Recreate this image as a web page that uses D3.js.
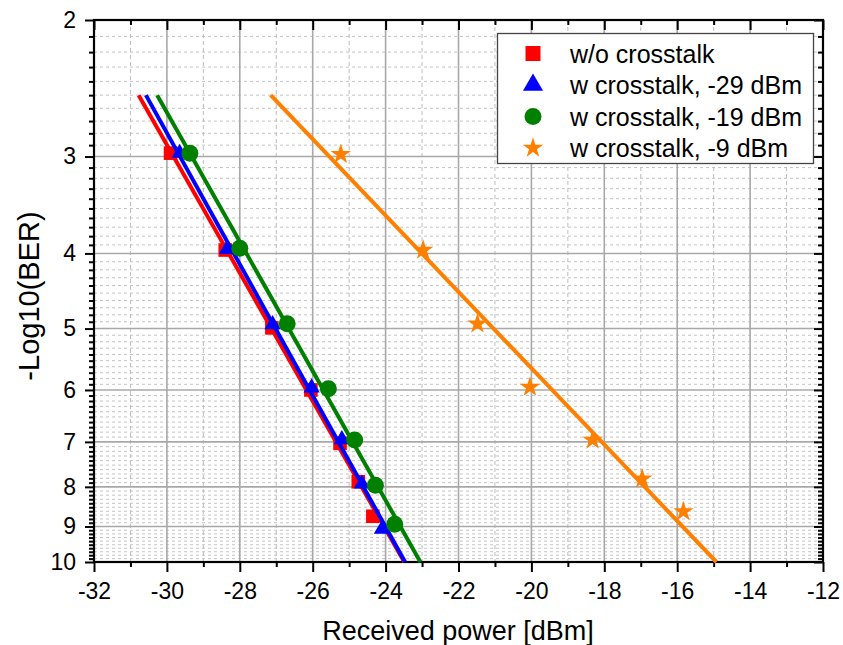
<!DOCTYPE html>
<html>
<head>
<meta charset="utf-8">
<script src="https://cdn.jsdelivr.net/npm/d3@7/dist/d3.min.js"></script>
<style>
  html, body { margin: 0; padding: 0; background: #fff; }
  svg { display: block; font-family: "Liberation Sans", Arial, sans-serif; }
</style>
</head>
<body>
<svg id="chart" width="843" height="645"></svg>
<script>
// Received power (dBm) and -log10(BER) per measurement set
const seriesNames = ["w/o crosstalk", "w crosstalk, -29 dBm", "w crosstalk, -19 dBm", "w crosstalk, -9 dBm"];
const seriesColors = ["#ff0000", "#0000ff", "#008000", "#ff8000"];

const powerNoXt   = [-29.9, -28.4, -27.12, -26.05, -25.25, -24.75, -24.35];
const berNoXt     = [2.97, 3.96, 4.99, 6.0, 7.03, 7.88, 8.73];

const powerXt29   = [-29.65, -28.35, -27.1, -26.03, -25.2, -24.65, -24.1];
const berXt29     = [2.97, 3.95, 4.94, 5.96, 6.95, 7.93, 9.07];

const powerXt19   = [-29.37, -28.0, -26.7, -25.57, -24.85, -24.28, -23.75];
const berXt19     = [2.97, 3.94, 4.93, 5.98, 6.96, 7.96, 8.94];

const powerXt9    = [-25.23, -22.97, -21.48, -20.04, -18.32, -16.96, -15.83];
const berXt9      = [2.98, 3.96, 4.93, 5.95, 6.96, 7.81, 8.61];

// fitted lines span this -log10(BER) range
const fitRange = [2.5, 10];

const xTicks = [-32, -30, -28, -26, -24, -22, -20, -18, -16, -14, -12];
const yTicks = [2, 3, 4, 5, 6, 7, 8, 9, 10];

const svg = d3.select("#chart");
const M = { left: 94, right: 823, top: 20, bottom: 562 };

const x = d3.scaleLinear().domain([-32, -12]).range([M.left, M.right]);
const y = d3.scaleLog().domain([2, 10]).range([M.top, M.bottom]);

const xMinor = d3.range(-31, -12, 2);
const yMinor = [];
for (let d = 2; d < 10; d++) for (let k = 1; k < 10; k++) yMinor.push(+(d + k / 10).toFixed(1));

// grid
const grid = svg.append("g");
grid.selectAll(".ym").data(yMinor).join("line")
  .attr("x1", M.left).attr("x2", M.right)
  .attr("y1", d => y(d)).attr("y2", d => y(d))
  .attr("stroke", "#c4c4c4").attr("stroke-width", 1).attr("stroke-dasharray", "3,3");
grid.selectAll(".xm").data(xMinor).join("line")
  .attr("y1", M.top).attr("y2", M.bottom)
  .attr("x1", d => x(d)).attr("x2", d => x(d))
  .attr("stroke", "#bdbdbd").attr("stroke-width", 1).attr("stroke-dasharray", "4,3");
grid.selectAll(".yM").data(yTicks.slice(1, -1)).join("line")
  .attr("x1", M.left).attr("x2", M.right)
  .attr("y1", d => y(d)).attr("y2", d => y(d))
  .attr("stroke", "#a8a8a8").attr("stroke-width", 1.6);
grid.selectAll(".xM").data(xTicks.slice(1, -1)).join("line")
  .attr("y1", M.top).attr("y2", M.bottom)
  .attr("x1", d => x(d)).attr("x2", d => x(d))
  .attr("stroke", "#a8a8a8").attr("stroke-width", 1.6);

// axes
function styleAxis(g) {
  g.select(".domain").remove();
  g.selectAll(".tick line").attr("stroke", "#000").attr("stroke-width", 2);
  g.selectAll("text").attr("font-size", 23).attr("fill", "#000")
    .attr("font-family", "'Liberation Sans', Arial, sans-serif");
}
const fmt = d => d3.format("d")(d).replace("\u2212", "-");

svg.append("g").attr("transform", `translate(0,${M.bottom})`)
  .call(d3.axisBottom(x).tickValues(xTicks).tickSize(10).tickPadding(11).tickFormat(fmt)).call(styleAxis);
svg.append("g").attr("transform", `translate(0,${M.bottom})`)
  .call(d3.axisBottom(x).tickValues(xMinor).tickSize(5).tickFormat("")).call(styleAxis);
svg.append("g").attr("transform", `translate(0,${M.top})`)
  .call(d3.axisTop(x).tickValues(xTicks).tickSize(-10).tickFormat("")).call(styleAxis);
svg.append("g").attr("transform", `translate(0,${M.top})`)
  .call(d3.axisTop(x).tickValues(xMinor).tickSize(-5).tickFormat("")).call(styleAxis);

svg.append("g").attr("transform", `translate(${M.left},0)`)
  .call(d3.axisLeft(y).tickValues(yTicks).tickSize(9).tickPadding(9).tickFormat(d3.format("d"))).call(styleAxis);
svg.append("g").attr("transform", `translate(${M.left},0)`)
  .call(d3.axisLeft(y).tickValues(yMinor).tickSize(5).tickFormat("")).call(styleAxis);
svg.append("g").attr("transform", `translate(${M.right},0)`)
  .call(d3.axisRight(y).tickValues(yTicks).tickSize(-9).tickFormat("")).call(styleAxis);
svg.append("g").attr("transform", `translate(${M.right},0)`)
  .call(d3.axisRight(y).tickValues(yMinor).tickSize(-5).tickFormat("")).call(styleAxis);

// frame
svg.append("rect")
  .attr("x", M.left).attr("y", M.top)
  .attr("width", M.right - M.left).attr("height", M.bottom - M.top)
  .attr("fill", "none").attr("stroke", "#000").attr("stroke-width", 2.2);

// axis titles
svg.append("text").attr("x", 458).attr("y", 640).attr("text-anchor", "middle")
  .attr("font-size", 27).text("Received power [dBm]");
svg.append("text").attr("transform", "translate(39,296) rotate(-90)").attr("text-anchor", "middle")
  .attr("font-size", 29).text("-Log10(BER)");

// series
const series = [
  { name: seriesNames[0], color: seriesColors[0], xs: powerNoXt, ys: berNoXt, sym: d3.symbolSquare, size: 185, lsize: 225 },
  { name: seriesNames[1], color: seriesColors[1], xs: powerXt29, ys: berXt29, sym: d3.symbolTriangle, size: 115, lsize: 175 },
  { name: seriesNames[2], color: seriesColors[2], xs: powerXt19, ys: berXt19, sym: d3.symbolCircle, size: 227, lsize: 227 },
  { name: seriesNames[3], color: seriesColors[3], xs: powerXt9, ys: berXt9, sym: d3.symbolStar, size: 130, lsize: 130 }
];

// least-squares fit of log(-log10 BER) against power, straight on this axis
function fitLine(xs, ys) {
  const u = ys.map(v => Math.log10(v));
  const mu = d3.mean(u), mx = d3.mean(xs);
  let sxu = 0, sxx = 0;
  u.forEach((ui, i) => { sxu += (ui - mu) * (xs[i] - mx); sxx += (xs[i] - mx) * (xs[i] - mx); });
  const slope = sxu / sxx;
  return fitRange.map(v => ({ x: mx + (Math.log10(v) - mu) / slope, y: v }));
}

const plot = svg.append("g");
const line = d3.line().x(d => x(d.x)).y(d => y(d.y));
series.forEach(s => {
  plot.append("path").datum(fitLine(s.xs, s.ys))
    .attr("d", line).attr("fill", "none").attr("stroke", s.color).attr("stroke-width", 4);
  plot.selectAll(null).data(s.xs.map((v, i) => ({ x: v, y: s.ys[i] }))).join("path")
    .attr("transform", d => `translate(${x(d.x)},${y(d.y)})`)
    .attr("d", d3.symbol().type(s.sym).size(s.size)())
    .attr("fill", s.color);
});

// legend
const lg = svg.append("g");
lg.append("rect").attr("x", 497.5).attr("y", 33.5).attr("width", 316).attr("height", 130)
  .attr("fill", "#fff").attr("stroke", "#444").attr("stroke-width", 1.3);
series.forEach((s, i) => {
  const cy = 53.5 + i * 31.5;
  lg.append("path").attr("transform", `translate(533,${cy})`)
    .attr("d", d3.symbol().type(s.sym).size(s.lsize)()).attr("fill", s.color);
  lg.append("text").attr("x", 570).attr("y", cy).attr("dy", "0.36em")
    .attr("font-size", 25).attr("fill", "#000").text(s.name);
});
</script>
</body>
</html>
